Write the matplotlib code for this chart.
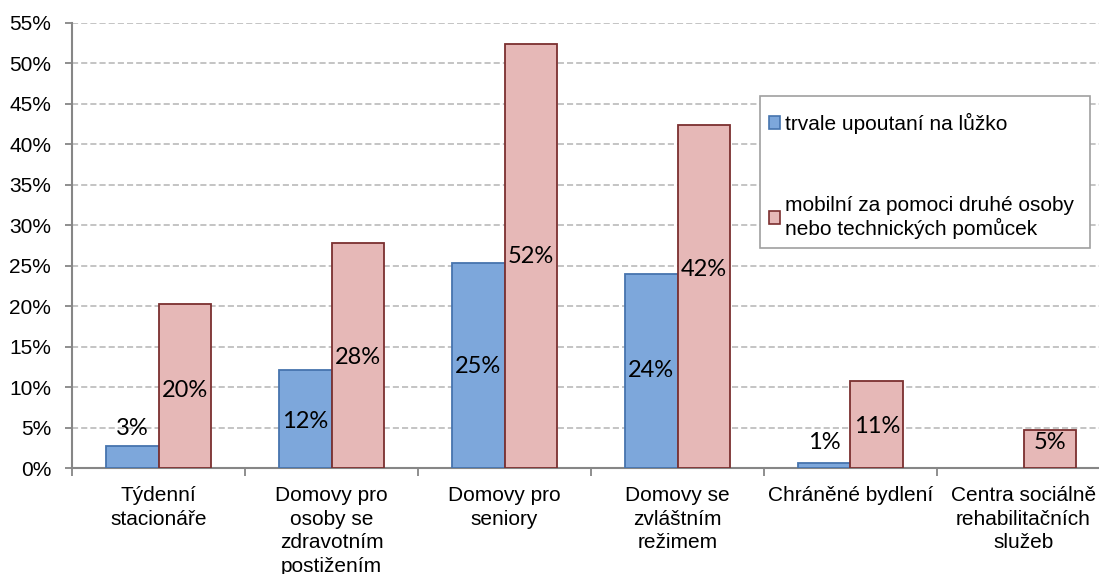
import matplotlib.pyplot as plt
from matplotlib.patches import Patch, Rectangle
from matplotlib.ticker import FuncFormatter, MultipleLocator
import numpy as np

# kategorie zarizeni
kategorie = ['Týdenní\nstacionáře', 'Domovy pro\nosoby se\nzdravotním\npostižením',
             'Domovy pro\nseniory', 'Domovy se\nzvláštním\nrežimem',
             'Chráněné bydlení', 'Centra sociálně\nrehabilitačních\nslužeb']

# podily (odhad z grafu)
upoutani = [0.027, 0.121, 0.253, 0.240, 0.006, 0.0]
mobilni = [0.203, 0.278, 0.524, 0.424, 0.107, 0.047]

# popisky hodnot
popisky_upoutani = ['3%', '12%', '25%', '24%', '1%', None]
popisky_mobilni = ['20%', '28%', '52%', '42%', '11%', '5%']

# vyska popisku (rucne posunute jako v originalu)
vyska_upoutani = [0.049, 0.057, 0.125, 0.121, 0.032, None]
vyska_mobilni = [0.096, 0.137, 0.261, 0.245, 0.051, 0.032]

nazev_1 = 'trvale upoutaní na lůžko'
nazev_2 = 'mobilní za pomoci druhé osoby\nnebo technických pomůcek'

modra = '#7DA7DB'
modra_okraj = '#4674AE'
ruzova = '#E6B8B7'
ruzova_okraj = '#7B2F2F'
seda = '#868686'

plt.rcParams['font.family'] = ['Liberation Sans', 'DejaVu Sans']

W, H = 1099, 574
fig = plt.figure(figsize=(W / 100, H / 100), dpi=100)
ax = fig.add_axes([72 / W, 1 - 468 / H, (1110 - 72) / W, (468 - 23) / H])

x = np.arange(len(kategorie))
w = 0.306
ax.bar(x - w / 2, upoutani, w, color=modra, edgecolor=modra_okraj,
       linewidth=[1.3 if v > 0 else 0 for v in upoutani], zorder=3)
ax.bar(x + w / 2, mobilni, w, color=ruzova, edgecolor=ruzova_okraj,
       linewidth=[1.3 if v > 0 else 0 for v in mobilni], zorder=3)

for i in range(len(kategorie)):
  if popisky_upoutani[i] is not None:
    ax.text(x[i] - w / 2, vyska_upoutani[i], popisky_upoutani[i], ha='center', va='center',
            fontsize=17, family=['Lato', 'DejaVu Sans'], zorder=4)
  ax.text(x[i] + w / 2, vyska_mobilni[i], popisky_mobilni[i], ha='center', va='center',
          fontsize=17, family=['Lato', 'DejaVu Sans'], zorder=4)

ax.set_xlim(-0.5, len(kategorie) - 0.5)
ax.set_ylim(0, 0.55)
ax.yaxis.set_major_locator(MultipleLocator(0.05))
ax.yaxis.set_major_formatter(FuncFormatter(lambda v, p: '%d%%' % round(v * 100)))
ax.grid(axis='y', color='#B4B4B4', linestyle=(0, (4, 2)), linewidth=1.1, zorder=0)

ax.set_xticks(x)
ax.set_xticklabels(kategorie, linespacing=1.3)
ax.set_xticks(np.arange(-0.5, len(kategorie), 1.0), minor=True)
ax.tick_params(axis='x', which='major', length=0, pad=13, labelsize=15)
ax.tick_params(axis='x', which='minor', length=6, color=seda, width=1.3)
ax.tick_params(axis='y', length=5, color=seda, width=1.3, labelsize=15, pad=10)

for s in ['top', 'right']:
  ax.spines[s].set_visible(False)
for s in ['left', 'bottom']:
  ax.spines[s].set_color(seda)
  ax.spines[s].set_linewidth(1.5)

# ramecek legendy
ax.add_patch(Rectangle((760 / W, 1 - 248 / H), 330 / W, 152 / H,
                       transform=fig.transFigure, facecolor='white', clip_on=False,
                       edgecolor='#A0A0A0', linewidth=1.2, zorder=5))

handles = [Patch(facecolor=modra, edgecolor=modra_okraj, linewidth=1.2),
           Patch(facecolor=ruzova, edgecolor=ruzova_okraj, linewidth=1.2)]
leg = ax.legend(handles, [nazev_1, nazev_2], loc='upper left',
                bbox_to_anchor=(769 / W, 1 - 113 / H), bbox_transform=fig.transFigure,
                fontsize=15, frameon=False,
                handlelength=0.55, handleheight=0.55, handletextpad=0.2,
                labelspacing=2.95, borderpad=0, borderaxespad=0)
leg.set_zorder(6)
for t in leg.get_texts():
  t.set_linespacing(1.2)

fig.savefig('out.png', dpi=100)
